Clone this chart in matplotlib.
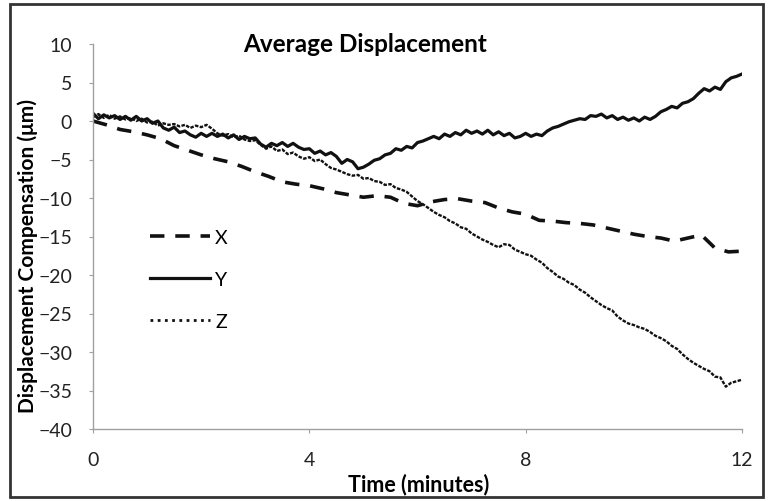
import numpy as np
import matplotlib
matplotlib.use('Agg')
import matplotlib.pyplot as plt
from matplotlib.lines import Line2D
from matplotlib.patches import Rectangle

plt.rcParams['font.family'] = ['Lato', 'DejaVu Sans']

# time grid (minutes)
t = np.round(np.arange(0, 12.01, 0.1), 2)
t_x = np.round(np.arange(0, 12.01, 0.25), 2)

# X displacement (dashed), read every 0.25 min
x_disp = [0.0, -0.5, -1.1, -1.4, -1.8, -2.3, -3.2, -3.8, -4.4, -4.9, -5.3, -5.9,
          -6.6, -7.2, -7.9, -8.2, -8.4, -8.8, -9.3, -9.6, -9.9, -9.7, -9.9, -10.7,
          -11.0, -10.5, -10.2, -10.1, -10.4, -10.6, -11.3, -11.8, -12.1, -12.9, -13.0, -13.2,
          -13.3, -13.5, -13.9, -14.3, -14.7, -15.0, -15.2, -15.6, -15.2, -14.8, -16.5, -17.0,
          -16.9]

# Y displacement (solid), read every 0.1 min
y_disp = [1.0, 0.3, 0.8, 0.4, 0.7, 0.2, 0.6, 0.1, 0.6, 0.0,
          0.3, -0.3, 0.0, -0.9, -1.2, -0.8, -1.5, -1.3, -1.8, -2.1,
          -1.6, -2.0, -1.6, -2.0, -1.7, -2.2, -1.8, -2.4, -2.0, -2.3,
          -2.2, -3.0, -3.4, -2.9, -3.2, -2.8, -3.3, -2.9, -3.4, -3.7,
          -3.6, -4.2, -3.9, -4.4, -4.1, -4.6, -5.5, -5.0, -5.3, -6.2,
          -6.0, -5.6, -5.1, -4.9, -4.4, -4.2, -3.6, -3.8, -3.3, -3.5,
          -2.8, -2.6, -2.3, -2.0, -2.3, -1.7, -2.0, -1.5, -1.8, -1.2,
          -1.6, -1.3, -1.7, -1.2, -1.8, -1.4, -1.9, -1.6, -2.2, -2.0,
          -1.6, -2.0, -1.7, -1.9, -1.3, -0.9, -0.7, -0.4, -0.1, 0.1,
          0.3, 0.2, 0.7, 0.6, 0.9, 0.4, 0.7, 0.2, 0.5, 0.1,
          0.4, 0.0, 0.5, 0.2, 0.6, 1.2, 1.5, 1.9, 1.7, 2.3,
          2.5, 2.9, 3.6, 4.2, 3.9, 4.4, 4.1, 5.1, 5.6, 5.8,
          6.1]

# Z displacement (dotted), read every 0.1 min
z_disp = [0.5, 0.9, 0.4, 0.8, 0.3, 0.6, 0.2, 0.4, 0.0, 0.3,
          -0.2, -0.1, -0.6, -0.3, -0.5, -0.4, -0.7, -0.5, -0.9, -0.6,
          -0.8, -0.5, -1.0, -1.6, -1.9, -1.7, -2.1, -1.9, -2.4, -2.6,
          -2.5, -3.1, -3.6, -3.3, -3.9, -3.7, -4.3, -4.1, -4.6, -4.9,
          -4.7, -5.2, -5.0, -5.6, -6.1, -6.3, -6.6, -6.9, -7.1, -7.0,
          -7.5, -7.4, -7.8, -7.9, -8.3, -8.2, -8.7, -8.9, -9.2, -9.8,
          -10.4, -10.8, -11.3, -11.8, -12.2, -12.5, -13.0, -13.3, -13.8, -14.0,
          -14.6, -15.0, -15.4, -15.7, -16.1, -16.4, -16.0, -16.1, -16.7, -17.0,
          -17.3, -17.5, -18.0, -18.4, -19.1, -19.6, -20.2, -20.5, -21.0, -21.3,
          -21.9, -22.3, -22.9, -23.4, -23.9, -24.3, -24.6, -25.4, -25.9, -26.3,
          -26.5, -26.8, -27.0, -27.4, -27.9, -28.2, -28.6, -29.2, -29.6, -30.3,
          -30.9, -31.4, -31.8, -32.2, -32.5, -33.2, -33.3, -34.5, -34.0, -33.8,
          -33.6]

x_ticks = [0, 4, 8, 12]
y_ticks = [10, 5, 0, -5, -10, -15, -20, -25, -30, -35, -40]

fig = plt.figure(figsize=(7.7, 5.02), dpi=100)
ax = fig.add_axes([93 / 770, 1 - 430 / 502, (742 - 93) / 770, (430 - 45) / 502])

ax.plot(t_x, x_disp, color='#111111', lw=2.6, linestyle=(0, (4, 3)), solid_capstyle='butt')
ax.plot(t, y_disp, color='#111111', lw=2.3)
ax.plot(t, z_disp, color='#111111', lw=1.7, linestyle=(0, (1.5, 0.6)))

ax.set_xlim(0, 12)
ax.set_ylim(-40, 10)
ax.set_xticks(x_ticks)
ax.set_yticks(y_ticks)
ax.tick_params(axis='both', labelsize=14, color='#a0a0a0', length=3, labelcolor='#222222')
ax.tick_params(axis='y', pad=12)
ax.tick_params(axis='x', pad=13)

for s in ['top', 'right']:
    ax.spines[s].set_visible(False)
for s in ['left', 'bottom']:
    ax.spines[s].set_color('#a0a0a0')
    ax.spines[s].set_linewidth(1.0)

fig.text(419 / 770, 1 - 485 / 502, 'Time (minutes)', fontsize=15.5, fontweight='bold',
         ha='center', va='center')
fig.text(28 / 770, 1 - 256 / 502, 'Displacement Compensation (μm)', fontsize=15,
         fontweight='bold', rotation=90, ha='center', va='center')

fig.text(365 / 770, 1 - 45 / 502, 'Average Displacement', fontsize=17.5, fontweight='bold',
         ha='center', va='center')

# legend
handles = [Line2D([], [], color='#111111', lw=2.6, linestyle=(0, (4, 3))),
           Line2D([], [], color='#111111', lw=2.3),
           Line2D([], [], color='#111111', lw=2.0, linestyle=(0, (1, 1.6)))]
ax.legend(handles, ['X', 'Y', 'Z'], loc='upper left', frameon=False, fontsize=14,
          bbox_to_anchor=(150 / 770, 1 - 230 / 502), bbox_transform=fig.transFigure,
          borderpad=0, borderaxespad=0, handlelength=3.1, handletextpad=0.25,
          labelspacing=1.28)

# outer frame
fig.patches.append(Rectangle((10 / 770, 4 / 502), 753 / 770, 493 / 502, transform=fig.transFigure,
                             fill=False, edgecolor='#333333', lw=2))

fig.savefig('out.png', dpi=100)
